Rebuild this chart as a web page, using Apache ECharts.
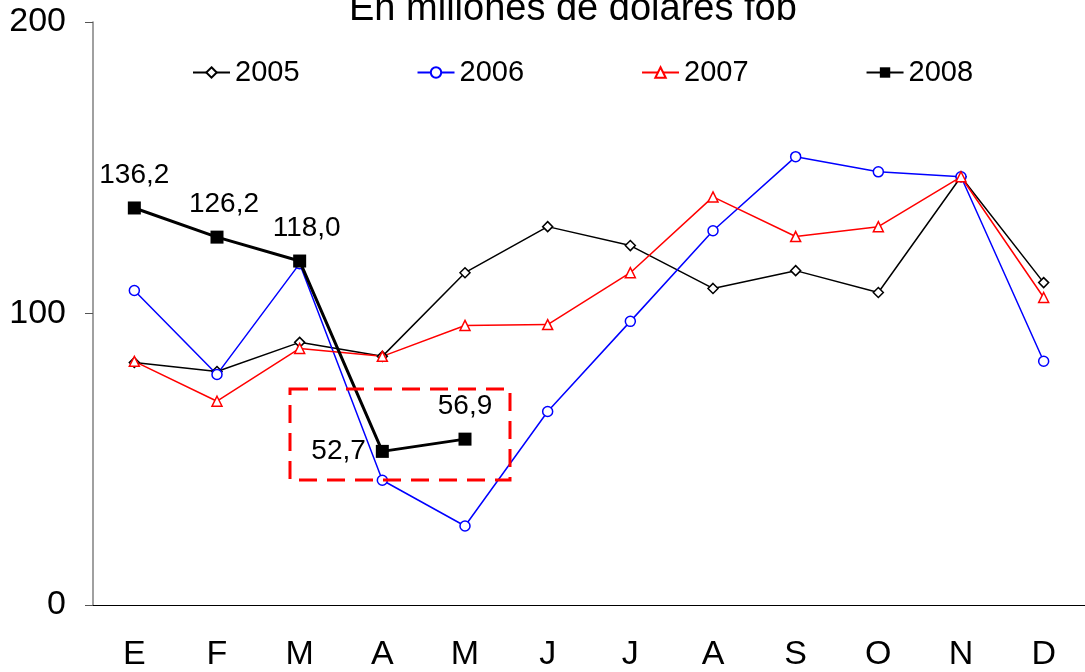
<!DOCTYPE html>
<html>
<head>
<meta charset="utf-8">
<script src="https://cdn.jsdelivr.net/npm/echarts@6/dist/echarts.min.js"></script>
<style>
  html, body { margin: 0; padding: 0; background: #fff; }
  #chart { width: 1085px; height: 672px; }
</style>
</head>
<body>
<div id="chart"></div>
<script>
  var months = ['E', 'F', 'M', 'A', 'M', 'J', 'J', 'A', 'S', 'O', 'N', 'D'];
  var y2005 = [83.2, 80.1, 90.1, 85.3, 114.0, 129.8, 123.3, 108.6, 114.7, 107.2, 146.9, 110.6];
  var y2006 = [107.9, 79.1, 117.1, 42.8, 27.1, 66.4, 97.3, 128.4, 153.8, 148.6, 146.9, 83.6];
  var y2007 = [83.6, 69.9, 88.0, 85.3, 95.9, 96.2, 114.0, 140.0, 126.4, 129.8, 146.9, 105.5];
  var y2008 = [136.2, 126.2, 118.0, 52.7, 56.9];
  var yTicks = [0, 100, 200];

  var font = 'Liberation Sans, Arial, sans-serif';
  var chart = echarts.init(document.getElementById('chart'));

  // etiquetas de 2008: la de abril va a la izquierda, feb y mar algo corridas
  var data2008 = y2008.map(function (v, i) {
    var item = { value: v };
    if (i === 3) item.label = { position: 'left', distance: 10 };
    if (i === 1 || i === 2) item.label = { offset: [7, 0] };
    return item;
  });

  function thin(name, data, color, symbol, size) {
    return {
      name: name,
      type: 'line',
      data: data,
      symbol: symbol,
      symbolSize: size,
      showAllSymbol: true,
      lineStyle: { color: color, width: 1.5 },
      itemStyle: { color: '#fff', borderColor: color, borderWidth: 1.5 },
      emphasis: { disabled: true },
      z: 2
    };
  }

  var option = {
    animation: false,
    backgroundColor: '#fff',
    title: {
      text: 'En millones de dólares fob',
      left: 344,
      top: -14,
      textStyle: { fontFamily: font, fontSize: 38, fontWeight: 'normal', color: '#000' }
    },
    legend: {
      left: 187,
      top: 53,
      itemWidth: 37,
      itemHeight: 13,
      itemGap: 117,
      textStyle: { fontFamily: font, fontSize: 29, color: '#000' },
      data: ['2005', '2006', '2007', '2008']
    },
    grid: { left: 93, top: 22, width: 998, height: 584 },
    xAxis: {
      type: 'category',
      data: months,
      boundaryGap: true,
      axisLine: { lineStyle: { color: '#000', width: 1 } },
      axisTick: { length: 10, lineStyle: { color: '#333' } },
      axisLabel: { fontFamily: font, fontSize: 34, color: '#000', margin: 33 }
    },
    yAxis: {
      type: 'value',
      min: yTicks[0],
      max: yTicks[yTicks.length - 1],
      interval: 100,
      splitLine: { show: false },
      axisLine: { show: true, lineStyle: { color: '#808080', width: 1.5 } },
      axisTick: { show: true, length: 8, lineStyle: { color: '#555' } },
      axisLabel: { fontFamily: font, fontSize: 34, color: '#000', margin: 27 }
    },
    series: [
      thin('2005', y2005, '#000000', 'diamond', 10),
      thin('2006', y2006, '#0000ff', 'circle', 10),
      thin('2007', y2007, '#ff0000', 'triangle', 10),
      {
        name: '2008',
        type: 'line',
        data: data2008,
        symbol: 'rect',
        symbolSize: 13,
        lineStyle: { color: '#000', width: 3 },
        itemStyle: { color: '#000' },
        emphasis: { disabled: true },
        label: {
          show: true,
          position: 'top',
          distance: 12,
          fontFamily: font,
          fontSize: 28,
          color: '#000',
          formatter: function (p) { return p.value.toFixed(1).replace('.', ','); }
        },
        z: 5
      }
    ],
    graphic: [{
      type: 'rect',
      shape: { x: 290, y: 389, width: 220, height: 91 },
      style: { fill: 'none', stroke: '#ff0000', lineWidth: 3, lineDash: [18, 10] },
      z: 10
    }]
  };

  chart.setOption(option);
</script>
</body>
</html>
